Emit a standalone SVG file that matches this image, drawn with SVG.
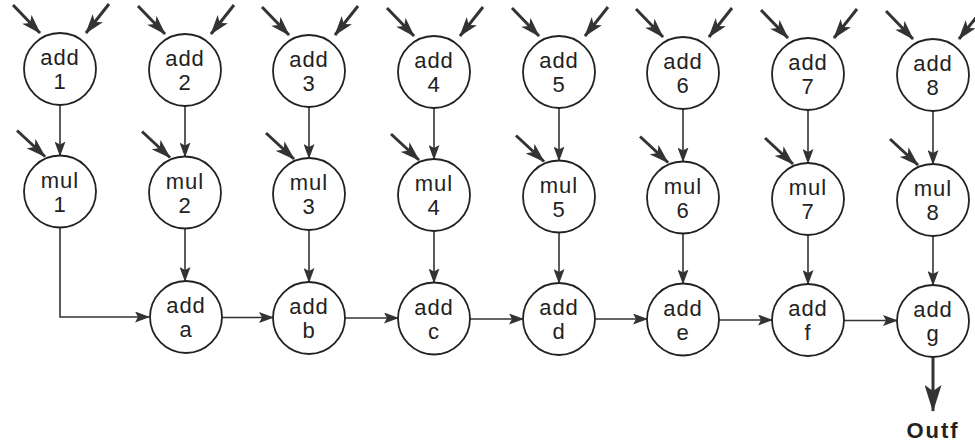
<svg xmlns="http://www.w3.org/2000/svg" width="975" height="446" viewBox="0 0 975 446">
  <style>
    .node circle { fill: #fff; stroke: #222; stroke-width: 1.8; }
    .node text { font-family: "Liberation Sans", Arial, sans-serif; font-size: 22px; fill: #222; text-anchor: middle; letter-spacing: 1px; }
    .edge { fill: none; stroke: #333; stroke-width: 1.6; marker-end: url(#ah); }
    .input { fill: none; stroke: #333; stroke-width: 3; marker-end: url(#ahBig); }
    .out { fill: none; stroke: #333; stroke-width: 3; marker-end: url(#ahOut); }
    .outf { font-family: "Liberation Sans", Arial, sans-serif; font-size: 22px; font-weight: bold; fill: #222; text-anchor: middle; letter-spacing: 2px; }
  </style>
  <defs>
    <marker id="ah" viewBox="0 0 15 11" refX="14" refY="5.5" markerWidth="15" markerHeight="11" markerUnits="userSpaceOnUse" orient="auto">
      <path d="M0,0 L15,5.5 L0,11 L3,5.5 Z" fill="#333"/>
    </marker>
    <marker id="ahBig" viewBox="0 0 20 13" refX="19" refY="6.5" markerWidth="20" markerHeight="13" markerUnits="userSpaceOnUse" orient="auto">
      <path d="M0,0 L20,6.5 L0,13 L5,6.5 Z" fill="#333"/>
    </marker>
    <marker id="ahOut" viewBox="0 0 27 17" refX="26" refY="8.5" markerWidth="27" markerHeight="17" markerUnits="userSpaceOnUse" orient="auto">
      <path d="M0,0 L27,8.5 L0,17 L6,8.5 Z" fill="#333"/>
    </marker>
  </defs>
  <rect width="975" height="446" fill="#fff"/>

  <g id="connectors">
    <!-- external inputs into the add row -->
    <path class="input" d="M13,5 L40,33"/><path class="input" d="M109,4 L86,33"/>
    <path class="input" d="M138,6 L165,34"/><path class="input" d="M234,5 L211,34"/>
    <path class="input" d="M262,7 L289,35"/><path class="input" d="M358,6 L335,35"/>
    <path class="input" d="M387,8 L414,36"/><path class="input" d="M483,7 L460,36"/>
    <path class="input" d="M512,8 L539,36"/><path class="input" d="M608,7 L585,36"/>
    <path class="input" d="M636,9 L663,37"/><path class="input" d="M732,8 L709,37"/>
    <path class="input" d="M761,10 L788,38"/><path class="input" d="M857,9 L834,38"/>
    <path class="input" d="M886,11 L913,39"/><path class="input" d="M982,10 L959,39"/>
    <!-- external inputs into the mul row -->
    <path class="input" d="M17,130.5 L45,156.5"/>
    <path class="input" d="M142,131.5 L170,157.5"/>
    <path class="input" d="M266,133 L294,159"/>
    <path class="input" d="M391,134 L419,160"/>
    <path class="input" d="M516,135.5 L544,161.5"/>
    <path class="input" d="M640,136.5 L668,162.5"/>
    <path class="input" d="M765,138 L793,164"/>
    <path class="input" d="M890,139 L918,165"/>
    <!-- add -> mul -->
    <path class="edge" d="M60,105 L60,155.5"/>
    <path class="edge" d="M185,106 L185,156.5"/>
    <path class="edge" d="M309,107 L309,158"/>
    <path class="edge" d="M434,108 L434,159"/>
    <path class="edge" d="M559,108 L559,160.5"/>
    <path class="edge" d="M683,109 L683,161.5"/>
    <path class="edge" d="M808,110 L808,163"/>
    <path class="edge" d="M933,111 L933,164"/>
    <!-- mul -> accumulation chain -->
    <path class="edge" d="M60,227.5 L60,317 L149,317"/>
    <path class="edge" d="M185,228.5 L185,281"/>
    <path class="edge" d="M309,230 L309,282"/>
    <path class="edge" d="M434,231 L434,282.5"/>
    <path class="edge" d="M559,232.5 L559,283"/>
    <path class="edge" d="M683,233.5 L683,283.5"/>
    <path class="edge" d="M808,235 L808,284"/>
    <path class="edge" d="M933,236 L933,285"/>
    <!-- accumulation chain -->
    <path class="edge" d="M221,317.5 L273,317.5"/>
    <path class="edge" d="M345,318 L398,318"/>
    <path class="edge" d="M470,319 L523,319"/>
    <path class="edge" d="M595,319 L647,319"/>
    <path class="edge" d="M719,320 L772,320"/>
    <path class="edge" d="M844,320.5 L897,320.5"/>
    <!-- output -->
    <path class="out" d="M933,357 L933,411"/>
  </g>

  <!-- add row -->
  <g id="add1" class="node"><circle cx="60" cy="69" r="36"/><text x="60" y="65">add</text><text x="60" y="89">1</text></g>
  <g id="add2" class="node"><circle cx="185" cy="70" r="36"/><text x="185" y="66">add</text><text x="185" y="90">2</text></g>
  <g id="add3" class="node"><circle cx="309" cy="71" r="36"/><text x="309" y="67">add</text><text x="309" y="91">3</text></g>
  <g id="add4" class="node"><circle cx="434" cy="72" r="36"/><text x="434" y="68">add</text><text x="434" y="92">4</text></g>
  <g id="add5" class="node"><circle cx="559" cy="72" r="36"/><text x="559" y="68">add</text><text x="559" y="92">5</text></g>
  <g id="add6" class="node"><circle cx="683" cy="73" r="36"/><text x="683" y="69">add</text><text x="683" y="93">6</text></g>
  <g id="add7" class="node"><circle cx="808" cy="74" r="36"/><text x="808" y="70">add</text><text x="808" y="94">7</text></g>
  <g id="add8" class="node"><circle cx="933" cy="75" r="36"/><text x="933" y="71">add</text><text x="933" y="95">8</text></g>

  <!-- mul row -->
  <g id="mul1" class="node"><circle cx="60" cy="191.5" r="36"/><text x="60" y="187.5">mul</text><text x="60" y="211.5">1</text></g>
  <g id="mul2" class="node"><circle cx="185" cy="192.5" r="36"/><text x="185" y="188.5">mul</text><text x="185" y="212.5">2</text></g>
  <g id="mul3" class="node"><circle cx="309" cy="194" r="36"/><text x="309" y="190">mul</text><text x="309" y="214">3</text></g>
  <g id="mul4" class="node"><circle cx="434" cy="195" r="36"/><text x="434" y="191">mul</text><text x="434" y="215">4</text></g>
  <g id="mul5" class="node"><circle cx="559" cy="196.5" r="36"/><text x="559" y="192.5">mul</text><text x="559" y="216.5">5</text></g>
  <g id="mul6" class="node"><circle cx="683" cy="197.5" r="36"/><text x="683" y="193.5">mul</text><text x="683" y="217.5">6</text></g>
  <g id="mul7" class="node"><circle cx="808" cy="199" r="36"/><text x="808" y="195">mul</text><text x="808" y="219">7</text></g>
  <g id="mul8" class="node"><circle cx="933" cy="200" r="36"/><text x="933" y="196">mul</text><text x="933" y="220">8</text></g>

  <!-- accumulation row -->
  <g id="adda" class="node"><circle cx="186" cy="317" r="36"/><text x="186" y="313">add</text><text x="186" y="337">a</text></g>
  <g id="addb" class="node"><circle cx="309" cy="318" r="36"/><text x="309" y="314">add</text><text x="309" y="338">b</text></g>
  <g id="addc" class="node"><circle cx="434" cy="318.5" r="36"/><text x="434" y="314.5">add</text><text x="434" y="338.5">c</text></g>
  <g id="addd" class="node"><circle cx="559" cy="319" r="36"/><text x="559" y="315">add</text><text x="559" y="339">d</text></g>
  <g id="adde" class="node"><circle cx="683" cy="319.5" r="36"/><text x="683" y="315.5">add</text><text x="683" y="339.5">e</text></g>
  <g id="addf" class="node"><circle cx="808" cy="320" r="36"/><text x="808" y="316">add</text><text x="808" y="340">f</text></g>
  <g id="addg" class="node"><circle cx="933" cy="321" r="36"/><text x="933" y="317">add</text><text x="933" y="341">g</text></g>

  <text id="outf" class="outf" x="933" y="438">Outf</text>
</svg>
